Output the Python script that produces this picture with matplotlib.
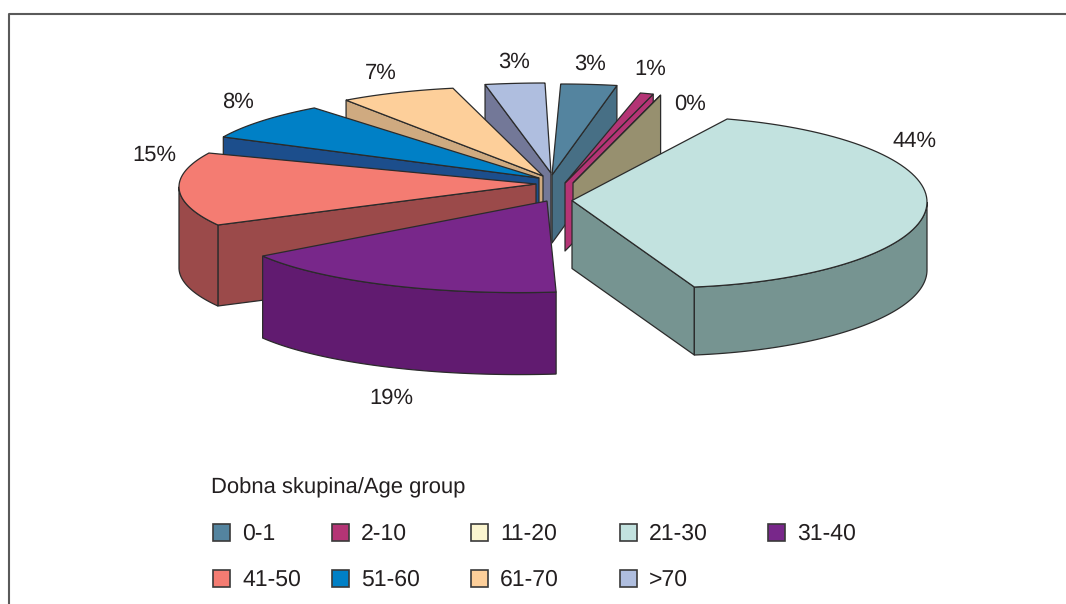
# We import necessary libraries
import numpy as np
import matplotlib
matplotlib.use("Agg")
import matplotlib.pyplot as plt
from matplotlib.patches import Rectangle

plt.rcParams["font.family"] = ["Liberation Sans", "DejaVu Sans"]
plt.rcParams["text.hinting"] = "none"
plt.rcParams["text.hinting_factor"] = 1

# We keep the chart values here
age_groups = ["0-1", "2-10", "11-20", "21-30", "31-40", "41-50", "51-60", "61-70", ">70"]
shares = [3, 1, 0, 44, 19, 15, 8, 7, 3]
legend_title = "Dobna skupina/Age group"

# Colours of the top of each slice and of its walls
top_colors = ["#54849F", "#B43475", "#FBF5CF", "#C2E2DF", "#78278A", "#F47C72", "#0080C6", "#FDCF9A", "#AFBEDF"]
wall_colors = ["#476F85", "#B43475", "#97906F", "#769491", "#611B70", "#9B4A4A", "#1C4E8C", "#CFAA80", "#737898"]

# Layout of each exploded slice in pixels: rim ellipse and apex, then the thickness
rim_cx = [560.7, 601, 586, 661, 519.4, 493.5, 483, 503, 545]
rim_cy = [169, 176.5, 177.4, 202, 222, 186.8, 169.2, 156, 168]
rim_rx = [300, 210, 300, 266, 293, 314.5, 287, 267, 320]
rim_ry = [85, 85, 85, 85.7, 70.6, 79.3, 75.7, 69, 85]
apex_x = [552, 565, 573, 572, 547, 536, 539, 543, 551]
apex_y = [175, 183, 183, 200.5, 201, 184, 178, 176, 173]
depth = [68, 68, 68, 68, 82, 81, 68, 68, 68]

# Slices are drawn from the back to the front
draw_order = [8, 0, 1, 2, 7, 6, 5, 4, 3]

# Label positions (centre of the text) and legend positions
label_x = [590, 650, 690, 915, 391, 154, 238, 381, 514]
label_y = [64, 69, 104, 141, 398, 155, 102, 73, 62]
legend_x = [213, 332, 471, 620, 768, 213, 332, 471, 620]
legend_y = [524, 524, 524, 524, 524, 570, 570, 570, 570]

line_color = "#2B2B2B"
text_color = "#231F20"


def rim_points(i, angles):
    # angles are clockwise from the top of the pie
    x = rim_cx[i] + rim_rx[i] * np.sin(np.radians(angles))
    y = rim_cy[i] - rim_ry[i] * np.cos(np.radians(angles))
    return x, y


def cut_face(i, angle):
    # flat wall between the apex and the rim
    x, y = rim_points(i, np.array([angle]))
    xs = [apex_x[i], x[0], x[0], apex_x[i]]
    ys = [apex_y[i], y[0], y[0] + depth[i], apex_y[i] + depth[i]]
    ax.fill(xs, ys, facecolor=wall_colors[i], edgecolor=line_color, linewidth=0.9, joinstyle="round")


fig = plt.figure(figsize=(10.66, 6.04), dpi=100)
ax = fig.add_axes([0, 0, 1, 1])
ax.set_xlim(0, 1066)
ax.set_ylim(604, 0)
ax.axis("off")

# We draw the frame, it runs off the picture on the right and at the bottom
ax.plot([8.5, 8.5, 1066], [604, 14, 14], color="#5A5A5A", linewidth=1.5)

# We turn the shares into start and end angles
ends = np.cumsum(shares) * 3.6
starts = ends - np.array(shares) * 3.6

for i in draw_order:
    a0 = starts[i]
    a1 = ends[i]

    # Cut faces, only the ones turned towards the viewer
    if np.cos(np.radians(a0 - 90)) < -1e-9:
        cut_face(i, a0)
    if np.cos(np.radians(a1 + 90)) < -1e-9:
        cut_face(i, a1)

    # Outer wall, only on the front half of the rim
    w0 = max(a0, 90)
    w1 = min(a1, 270)
    if w1 > w0:
        wall_x, wall_y = rim_points(i, np.linspace(w0, w1, 80))
        xs = np.concatenate([wall_x, wall_x[::-1]])
        ys = np.concatenate([wall_y, wall_y[::-1] + depth[i]])
        ax.fill(xs, ys, facecolor=wall_colors[i], edgecolor=line_color, linewidth=0.9)

    # Top of the slice
    top_x, top_y = rim_points(i, np.linspace(a0, a1, 80))
    xs = np.concatenate([[apex_x[i]], top_x])
    ys = np.concatenate([[apex_y[i]], top_y])
    ax.fill(xs, ys, facecolor=top_colors[i], edgecolor=line_color, linewidth=0.9)

# We add the percentage labels
for i in range(len(shares)):
    ax.text(label_x[i], label_y[i], f"{shares[i]}%", fontsize=15.8, color=text_color, ha="center", va="center")

# We add the legend
ax.text(211, 487.5, legend_title, fontsize=15.8, color=text_color, ha="left", va="center")
for i in range(len(age_groups)):
    ax.add_patch(Rectangle((legend_x[i], legend_y[i]), 17, 17, facecolor=top_colors[i], edgecolor="#3A3A3A", linewidth=1.2))
    ax.text(legend_x[i] + 29, legend_y[i] + 9.5, age_groups[i], fontsize=16.8, color=text_color, ha="left", va="center")

fig.savefig("out.png", dpi=100)
